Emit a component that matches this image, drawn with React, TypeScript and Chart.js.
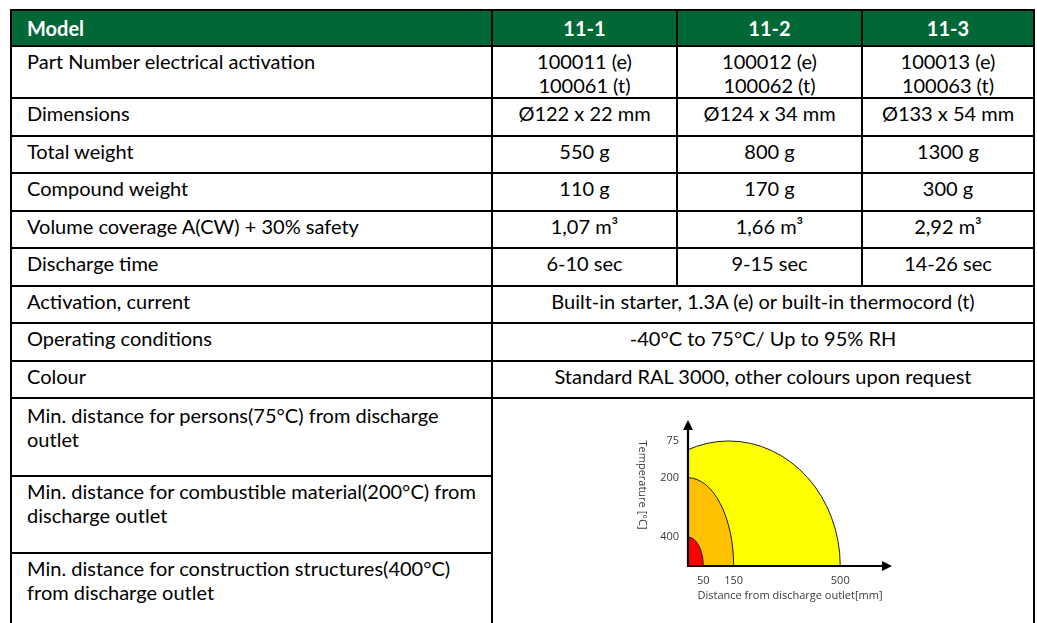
import React, { useEffect, useRef } from "react";
import { Chart, registerables } from "chart.js";

Chart.register(...registerables);

// ---------- table content ----------
const headerLabel = "Model";
const models = ["11-1", "11-2", "11-3"];
const partNumbersE = ["100011 (e)", "100012 (e)", "100013 (e)"];
const partNumbersT = ["100061 (t)", "100062 (t)", "100063 (t)"];
const dimensions = ["Ø122 x 22 mm", "Ø124 x 34 mm", "Ø133 x 54 mm"];
const totalWeights = ["550 g", "800 g", "1300 g"];
const compoundWeights = ["110 g", "170 g", "300 g"];
const volumeCoverage = ["1,07 m³", "1,66 m³", "2,92 m³"];
const dischargeTimes = ["6-10 sec", "9-15 sec", "14-26 sec"];
const activationText = "Built-in starter, 1.3A (e) or built-in thermocord (t)";
const operatingText = "-40°C to 75°C/ Up to 95% RH";
const colourText = "Standard RAL 3000, other colours upon request";
const distanceRowLabels = [
  ["Min. distance for persons(75°C) from discharge", "outlet"],
  ["Min. distance for combustible material(200°C) from", "discharge outlet"],
  ["Min. distance for construction structures(400°C)", "from discharge outlet"],
];

// ---------- chart data ----------
const zoneTempC = [400, 200, 75]; // temperature label of each zone
const zoneReachMm = [50, 150, 500]; // distance from outlet
const zoneHeight = [95, 290, 411]; // plume height (same units as mm)
const zonePeakAtMm = [0, 0, 134]; // where the plume is highest
const zoneColors = ["#FF0000", "#FFC000", "#FFFF00"];
const xAxisMax = 670;
const yAxisMax = 480;
const xTitle = "Distance from discharge outlet[mm]";
const yTitle = "Temperature [°C]";

const axisColor = "#000000";
const labelColor = "#3a3a3a";

const zonesPlugin = {
  id: "zones",
  beforeDatasetsDraw(chart: any) {
    const { ctx, chartArea, scales } = chart;
    const x = scales.x;
    const y = scales.y;
    const x0 = x.getPixelForValue(0);
    const y0 = y.getPixelForValue(0);
    ctx.save();
    ctx.beginPath();
    ctx.rect(x0, chartArea.top - 20, chartArea.right - x0 + 20, y0 - chartArea.top + 20);
    ctx.clip();
    for (let i = zoneTempC.length - 1; i >= 0; i--) {
      const cx = x.getPixelForValue(zonePeakAtMm[i]);
      const rx = x.getPixelForValue(zoneReachMm[i]) - cx;
      const ry = y0 - y.getPixelForValue(zoneHeight[i]);
      ctx.beginPath();
      ctx.ellipse(cx, y0, rx, ry, 0, Math.PI, 2 * Math.PI);
      ctx.closePath();
      ctx.fillStyle = zoneColors[i];
      ctx.fill();
      ctx.strokeStyle = "#1a1a1a";
      ctx.lineWidth = 1;
      ctx.stroke();
    }
    ctx.restore();
  },
  afterDraw(chart: any) {
    const { ctx, chartArea, scales } = chart;
    const x0 = scales.x.getPixelForValue(0);
    const y0 = scales.y.getPixelForValue(0);
    const right = chartArea.right;
    const top = chartArea.top;
    ctx.save();
    ctx.strokeStyle = axisColor;
    ctx.fillStyle = axisColor;
    ctx.lineWidth = 2.2;
    ctx.beginPath();
    ctx.moveTo(x0, y0);
    ctx.lineTo(right - 6, y0);
    ctx.moveTo(x0, y0 + 1);
    ctx.lineTo(x0, top + 6);
    ctx.stroke();
    // arrow heads
    ctx.beginPath();
    ctx.moveTo(right, y0);
    ctx.lineTo(right - 10, y0 - 5);
    ctx.lineTo(right - 10, y0 + 5);
    ctx.closePath();
    ctx.fill();
    ctx.beginPath();
    ctx.moveTo(x0, top);
    ctx.lineTo(x0 - 5, top + 10);
    ctx.lineTo(x0 + 5, top + 10);
    ctx.closePath();
    ctx.fill();
    // y title, reading top to bottom
    ctx.translate(22, (top + y0) / 2 - 8);
    ctx.rotate(Math.PI / 2);
    ctx.font = "11px 'Open Sans', sans-serif";
    ctx.fillStyle = labelColor;
    ctx.textAlign = "center";
    ctx.textBaseline = "middle";
    ctx.fillText(yTitle, 0, 0);
    ctx.restore();
  },
};

function ZoneChart() {
  const ref = useRef<HTMLCanvasElement | null>(null);
  useEffect(() => {
    if (!ref.current) return;
    const chart = new Chart(ref.current, {
      type: "scatter",
      data: {
        datasets: zoneTempC.map((t, i) => ({
          label: `${t} °C`,
          data: [
            { x: zonePeakAtMm[i], y: zoneHeight[i] },
            { x: zoneReachMm[i], y: 0 },
          ],
          pointRadius: 0,
          showLine: false,
        })),
      },
      options: {
        animation: false,
        responsive: false,
        events: [],
        layout: { padding: { left: 0, top: 20, right: 18, bottom: 13 } },
        plugins: { legend: { display: false }, tooltip: { enabled: false } },
        scales: {
          x: {
            type: "linear",
            min: 0,
            max: xAxisMax,
            grid: { display: false, drawTicks: false },
            border: { display: false },
            afterBuildTicks: (s: any) => {
              s.ticks = zoneReachMm.map((v) => ({ value: v }));
            },
            afterFit: (s: any) => {
              s.height = 36;
            },
            ticks: {
              autoSkip: false,
              maxRotation: 0,
              padding: 8,
              color: labelColor,
              font: { family: "'Open Sans', sans-serif", size: 11 },
              callback: (v: any) => String(v),
            },
            title: {
              display: true,
              text: xTitle,
              color: labelColor,
              padding: { top: 0, bottom: 0 },
              font: { family: "'Open Sans', sans-serif", size: 11 },
            },
          },
          y: {
            type: "linear",
            min: 0,
            max: yAxisMax,
            grid: { display: false, drawTicks: false },
            border: { display: false },
            afterBuildTicks: (s: any) => {
              s.ticks = zoneHeight.map((v) => ({ value: v }));
            },
            afterFit: (s: any) => {
              s.width = 68;
            },
            ticks: {
              autoSkip: false,
              padding: 9,
              color: labelColor,
              font: { family: "'Open Sans', sans-serif", size: 11 },
              callback: (_v: any, i: number) => String(zoneTempC[i]),
            },
          },
        },
      },
      plugins: [zonesPlugin],
    } as any);
    return () => chart.destroy();
  }, []);
  return <canvas ref={ref} width={290} height={215} style={{ display: "block", width: 290, height: 215 }} />;
}

const FONT = "Lato, 'Open Sans', sans-serif";
const GREEN = "#006837";

const cellBase: React.CSSProperties = {
  border: "2px solid #000",
  padding: "2px 15px 0 15px",
  verticalAlign: "top",
  lineHeight: "24px",
  whiteSpace: "nowrap",
  overflow: "hidden",
};
const labelCell: React.CSSProperties = { ...cellBase, textAlign: "left" };
const valueCell: React.CSSProperties = { ...cellBase, textAlign: "center", padding: "2px 4px 0 4px" };
const headCell: React.CSSProperties = {
  ...cellBase,
  background: GREEN,
  color: "#fff",
  fontWeight: 700,
  verticalAlign: "middle",
  padding: "0 15px",
};

function SimpleRow({ label, values, h }: { label: string; values: string[]; h: number }) {
  return (
    <tr style={{ height: h }}>
      <td style={labelCell}>{label}</td>
      {values.map((v, i) => (
        <td key={i} style={valueCell}>
          {v}
        </td>
      ))}
    </tr>
  );
}

function SpanRow({ label, value, h }: { label: string; value: string; h: number }) {
  return (
    <tr style={{ height: h }}>
      <td style={labelCell}>{label}</td>
      <td colSpan={3} style={valueCell}>
        {value}
      </td>
    </tr>
  );
}

export default function App() {
  return (
    <div
      style={{
        position: "absolute",
        left: 0,
        top: 0,
        width: 1037,
        height: 623,
        overflow: "hidden",
        background: "#fff",
        fontFamily: FONT,
      }}
    >
      <table
        style={{
          position: "absolute",
          left: 10,
          top: 9,
          width: 1025,
          borderCollapse: "collapse",
          tableLayout: "fixed",
          fontSize: 20,
          color: "#000",
        }}
      >
        <colgroup>
          <col style={{ width: 481 }} />
          <col style={{ width: 185 }} />
          <col style={{ width: 185 }} />
          <col style={{ width: 172 }} />
        </colgroup>
        <tbody>
          <tr style={{ height: 36 }}>
            <td style={{ ...headCell, textAlign: "left" }}>{headerLabel}</td>
            {models.map((m) => (
              <td key={m} style={{ ...headCell, textAlign: "center" }}>
                {m}
              </td>
            ))}
          </tr>
          <tr style={{ height: 52 }}>
            <td style={labelCell}>Part Number electrical activation</td>
            {partNumbersE.map((p, i) => (
              <td key={p} style={valueCell}>
                {p}
                <br />
                {partNumbersT[i]}
              </td>
            ))}
          </tr>
          <SimpleRow label="Dimensions" values={dimensions} h={38} />
          <SimpleRow label="Total weight" values={totalWeights} h={37} />
          <SimpleRow label="Compound weight" values={compoundWeights} h={38} />
          <SimpleRow label="Volume coverage A(CW) + 30% safety" values={volumeCoverage} h={37} />
          <SimpleRow label="Discharge time" values={dischargeTimes} h={38} />
          <SpanRow label="Activation, current" value={activationText} h={37} />
          <SpanRow label="Operating conditions" value={operatingText} h={38} />
          <SpanRow label="Colour" value={colourText} h={37} />
          <tr style={{ height: 78 }}>
            <td style={{ ...labelCell, paddingTop: 4 }}>
              {distanceRowLabels[0][0]}
              <br />
              {distanceRowLabels[0][1]}
            </td>
            <td colSpan={3} rowSpan={3} style={{ ...valueCell, padding: 0 }}></td>
          </tr>
          <tr style={{ height: 77 }}>
            <td style={{ ...labelCell, paddingTop: 2 }}>
              {distanceRowLabels[1][0]}
              <br />
              {distanceRowLabels[1][1]}
            </td>
          </tr>
          <tr style={{ height: 80 }}>
            <td style={{ ...labelCell, paddingTop: 2 }}>
              {distanceRowLabels[2][0]}
              <br />
              {distanceRowLabels[2][1]}
            </td>
          </tr>
        </tbody>
      </table>
      <div style={{ position: "absolute", left: 620, top: 400, width: 290, height: 215 }}>
        <ZoneChart />
      </div>
    </div>
  );
}
